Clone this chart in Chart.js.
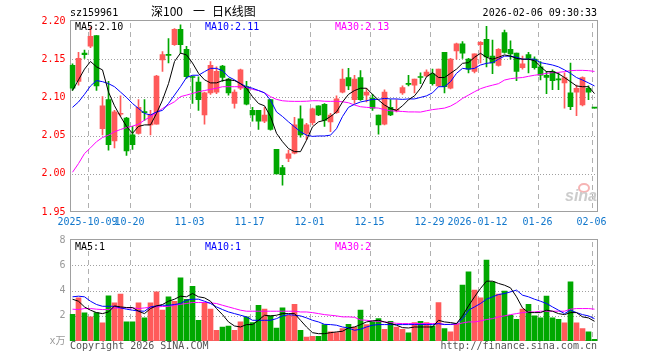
<!DOCTYPE html>
<html><head><meta charset="utf-8">
<script src="https://cdn.jsdelivr.net/npm/chart.js@4.4.1/dist/chart.umd.min.js"></script>
<style>
html,body{margin:0;padding:0;background:#fff;width:660px;height:360px;overflow:hidden;position:relative;}
canvas{position:absolute;left:0;}
.t{position:absolute;font-family:'DejaVu Sans Mono',monospace;font-size:10px;line-height:10px;white-space:pre;}
.c{position:absolute;font-family:'Noto Sans CJK SC',sans-serif;font-size:12px;line-height:12px;white-space:pre;color:#000;}
</style></head><body>
<canvas id="k" width="660" height="232" style="top:0"></canvas>
<canvas id="v" width="660" height="130" style="top:230px"></canvas>
<div class="t" style="left:70px;top:8px;color:#000">sz159961</div>
<div class="c" style="left:151px;top:5px">深100</div>
<div class="c" style="left:193px;top:5px">一</div>
<div class="c" style="left:212px;top:5px">日K线图</div>
<div class="t" style="right:63px;top:8px;color:#000">2026-02-06 09:30:33</div>
<div class="t" style="left:75px;top:21.5px;color:#000">MA5:2.10</div>
<div class="t" style="left:205px;top:21.5px;color:#0000ff">MA10:2.11</div>
<div class="t" style="left:335px;top:21.5px;color:#ff00ff">MA30:2.13</div>
<div class="t" style="left:75px;top:242px;color:#000">MA5:1</div>
<div class="t" style="left:205px;top:242px;color:#0000ff">MA10:1</div>
<div class="t" style="left:335px;top:242px;color:#ff00ff">MA30:2</div>
<div class="t" style="left:70px;top:340.5px;color:#555">Copyright 2026 SINA.COM</div>
<div class="t" style="right:63px;top:340.5px;color:#555">http://finance.sina.com.cn</div>
<div style="position:absolute;left:578px;top:183px;width:8px;height:6px;border:2px solid #f6b4b4;border-radius:50%;"></div>
<div style="position:absolute;left:565px;top:188px;font:italic bold 16px 'Liberation Sans',sans-serif;line-height:16px;color:#cccccc;">sina</div>
<script>
const dates = [
'2025-09-26','2025-09-29','2025-09-30',
'2025-10-09','2025-10-10','2025-10-13','2025-10-14','2025-10-15','2025-10-16','2025-10-17','2025-10-20','2025-10-21','2025-10-22','2025-10-23','2025-10-24','2025-10-27','2025-10-28','2025-10-29','2025-10-30','2025-10-31',
'2025-11-03','2025-11-04','2025-11-05','2025-11-06','2025-11-07','2025-11-10','2025-11-11','2025-11-12','2025-11-13','2025-11-14','2025-11-17','2025-11-18','2025-11-19','2025-11-20','2025-11-21','2025-11-24','2025-11-25','2025-11-26','2025-11-27','2025-11-28',
'2025-12-01','2025-12-02','2025-12-03','2025-12-04','2025-12-05','2025-12-08','2025-12-09','2025-12-10','2025-12-11','2025-12-12','2025-12-15','2025-12-16','2025-12-17','2025-12-18','2025-12-19','2025-12-22','2025-12-23','2025-12-24','2025-12-25','2025-12-26','2025-12-29','2025-12-30','2025-12-31',
'2026-01-05','2026-01-06','2026-01-07','2026-01-08','2026-01-09','2026-01-12','2026-01-13','2026-01-14','2026-01-15','2026-01-16','2026-01-19','2026-01-20','2026-01-21','2026-01-22','2026-01-23','2026-01-26','2026-01-27','2026-01-28','2026-01-29','2026-01-30',
'2026-02-02','2026-02-03','2026-02-04','2026-02-05','2026-02-06'];
const tickDates = ['2025-10-09','2025-10-20','2025-11-03','2025-11-17','2025-12-01','2025-12-15','2025-12-29','2026-01-12','2026-01-26','2026-02-06'];
const tickLabels = ['2025-10-09','10-20','11-03','11-17','12-01','12-15','12-29','2026-01-12','01-26','02-06'];
const priceTicks = [1.95, 2.00, 2.05, 2.10, 2.15, 2.20];
const volTicks = [0, 2, 4, 6, 8];

const open = [2.142,2.121,2.158,2.167,2.181,2.059,2.097,2.043,2.078,2.073,
2.051,2.053,2.081,2.064,2.065,2.149,2.156,2.169,2.189,2.163,
2.127,2.120,2.077,2.106,2.107,2.141,2.124,2.092,2.112,2.114,
2.083,2.083,2.069,2.097,2.032,2.008,2.020,2.027,2.072,2.053,
2.067,2.089,2.091,2.068,2.080,2.107,2.126,2.097,2.126,2.103,
2.099,2.077,2.065,2.087,2.083,2.106,2.118,2.116,2.127,2.128,
2.131,2.115,2.159,2.112,2.161,2.170,2.150,2.134,2.169,2.176,
2.154,2.142,2.185,2.163,2.158,2.139,2.156,2.150,2.140,2.129,
2.134,2.124,2.119,2.106,2.107,2.090,2.112,2.086];
const high = [2.144,2.159,2.162,2.192,2.181,2.101,2.121,2.083,2.102,2.074,
2.062,2.097,2.097,2.083,2.129,2.160,2.177,2.190,2.195,2.167,
2.128,2.127,2.107,2.147,2.140,2.142,2.125,2.110,2.137,2.121,
2.087,2.083,2.087,2.097,2.032,2.011,2.031,2.074,2.089,2.066,
2.086,2.089,2.092,2.079,2.102,2.137,2.138,2.129,2.135,2.112,
2.104,2.077,2.110,2.097,2.097,2.115,2.129,2.124,2.132,2.136,
2.137,2.137,2.159,2.151,2.171,2.173,2.151,2.157,2.173,2.193,
2.175,2.164,2.188,2.174,2.158,2.154,2.159,2.153,2.147,2.134,
2.136,2.132,2.132,2.145,2.116,2.127,2.115,2.086];
const low = [2.109,2.116,2.151,2.165,2.109,2.051,2.031,2.034,2.075,2.024,
2.032,2.052,2.070,2.051,2.065,2.134,2.145,2.168,2.158,2.125,
2.092,2.083,2.065,2.104,2.105,2.121,2.103,2.086,2.110,2.090,
2.069,2.058,2.067,2.057,2.000,1.985,2.016,2.026,2.048,2.045,
2.064,2.076,2.062,2.055,2.079,2.106,2.110,2.092,2.096,2.094,
2.083,2.052,2.064,2.076,2.081,2.104,2.115,2.106,2.118,2.127,
2.116,2.114,2.106,2.111,2.150,2.151,2.132,2.132,2.145,2.140,
2.131,2.141,2.158,2.150,2.122,2.137,2.132,2.137,2.123,2.105,
2.110,2.110,2.086,2.084,2.076,2.089,2.097,2.086];
const close = [2.112,2.151,2.156,2.180,2.115,2.089,2.038,2.081,2.079,2.030,
2.038,2.087,2.080,2.078,2.128,2.156,2.155,2.189,2.169,2.127,
2.126,2.097,2.106,2.142,2.134,2.126,2.106,2.107,2.136,2.091,
2.077,2.069,2.077,2.058,2.000,1.999,2.026,2.064,2.051,2.064,
2.085,2.077,2.070,2.077,2.098,2.124,2.115,2.124,2.097,2.107,
2.086,2.064,2.107,2.077,2.084,2.113,2.117,2.124,2.126,2.133,
2.118,2.137,2.114,2.150,2.170,2.158,2.137,2.157,2.172,2.153,
2.145,2.163,2.159,2.157,2.134,2.144,2.151,2.139,2.129,2.126,
2.122,2.123,2.126,2.088,2.112,2.126,2.107,2.086];
const ma5 = [2.109,2.123,2.137,2.147,2.140,2.136,2.107,2.089,2.075,2.062,
2.053,2.062,2.064,2.064,2.079,2.0965,2.118,2.147,2.158,2.1556,
2.145,2.1315,2.123,2.119,2.119,2.122,2.123,2.122,2.118,2.112,
2.101,2.092,2.089,2.075,2.053,2.042,2.033,2.029,2.029,2.044,
2.0615,2.068,2.070,2.075,2.081,2.094,2.104,2.109,2.112,2.112,
2.104,2.0965,2.090,2.0855,2.083,2.089,2.097,2.102,2.112,2.127,
2.1324,2.126,2.126,2.1315,2.137,2.1446,2.1455,2.1525,2.1577,2.1525,
2.150,2.1525,2.1556,2.154,2.151,2.150,2.150,2.148,2.140,2.1337,
2.1337,2.131,2.126,2.1206,2.115,2.114,2.114,2.105];
const ma10 = [2.087,2.094,2.104,2.115,2.122,2.1206,2.118,2.114,2.107,2.100,
2.092,2.0855,2.079,2.077,2.081,2.083,2.092,2.103,2.114,2.126,
2.129,2.129,2.1337,2.138,2.138,2.135,2.127,2.123,2.118,2.114,
2.112,2.109,2.106,2.0965,2.081,2.075,2.068,2.0615,2.055,2.0506,
2.049,2.0495,2.0495,2.0506,2.059,2.075,2.087,2.091,2.094,2.0956,
2.0974,2.0974,2.0987,2.098,2.098,2.0974,2.098,2.098,2.100,2.102,
2.106,2.114,2.114,2.1206,2.1315,2.138,2.137,2.138,2.1424,2.1446,
2.1455,2.150,2.154,2.154,2.1525,2.150,2.150,2.150,2.1455,2.144,
2.1424,2.140,2.136,2.1315,2.126,2.1227,2.119,2.115];
const ma30 = [2.002,2.0134,2.0265,2.034,2.042,2.0475,2.0506,2.055,2.058,2.0606,
2.0624,2.065,2.0703,2.0746,2.080,2.0855,2.090,2.0943,2.101,2.103,
2.1052,2.1074,2.109,2.1105,2.112,2.114,2.114,2.114,2.114,2.113,
2.1105,2.109,2.106,2.101,2.0974,2.0956,2.095,2.0948,2.0948,2.095,
2.0956,2.0956,2.095,2.0948,2.095,2.0943,2.093,2.090,2.0878,2.087,
2.0865,2.086,2.084,2.0825,2.082,2.0816,2.081,2.081,2.0808,2.0825,
2.084,2.085,2.086,2.0886,2.093,2.0987,2.103,2.1074,2.1114,2.114,
2.116,2.118,2.1227,2.1245,2.1254,2.126,2.1276,2.129,2.130,2.1315,
2.1324,2.1328,2.1337,2.135,2.1354,2.1354,2.135,2.134];
const vol = [2.12,3.42,2.23,1.91,2.25,1.43,3.58,3.02,3.71,1.51,
1.51,3.02,1.83,3.02,3.89,2.44,3.50,3.15,5.01,3.31,
4.34,1.64,3.05,2.52,0.85,1.11,1.19,0.85,1.51,1.91,
1.46,2.83,2.52,1.99,1.03,2.62,2.04,2.91,0.85,0.32,
0.37,0.37,1.30,0.72,0.66,0.98,1.32,1.11,2.44,1.30,
1.51,1.77,0.93,1.56,1.11,0.93,0.64,1.46,1.56,1.46,
1.19,3.05,0.98,0.72,1.38,4.42,5.48,4.03,3.42,6.41,
4.69,3.71,3.95,2.04,1.72,2.52,2.91,1.99,1.83,3.55,
1.83,1.72,1.43,4.69,1.43,0.98,0.72,0.13];
const vma5 = [3.31,3.15,2.70,2.44,2.25,2.17,2.30,2.78,2.70,2.65,
2.65,2.36,2.17,2.57,2.78,2.89,3.15,3.31,3.55,3.50,
3.76,3.50,3.42,3.15,2.57,2.09,1.51,1.19,1.11,1.30,
1.30,1.64,2.04,1.99,2.04,2.17,2.17,2.17,1.64,1.11,
0.66,0.58,0.58,0.66,0.72,0.77,1.03,1.11,1.30,1.51,
1.59,1.64,1.51,1.38,1.25,1.06,1.03,1.11,1.11,1.11,
1.11,1.64,1.51,1.46,1.38,1.99,2.78,3.50,4.16,4.74,
4.74,4.56,4.42,4.21,3.50,2.62,2.25,2.25,2.25,2.44,
2.36,2.17,2.09,2.25,2.25,1.91,1.83,1.56];
const vma10 = [3.50,3.55,3.50,3.15,2.89,2.75,2.75,2.75,2.62,2.52,
2.44,2.38,2.36,2.70,2.78,2.83,2.83,2.89,2.97,3.23,
3.31,3.31,3.15,2.97,2.70,2.49,2.30,2.17,2.04,1.91,
1.64,1.64,1.64,1.64,1.77,1.99,2.09,2.04,1.99,1.83,
1.64,1.51,1.32,1.30,1.25,1.11,1.03,0.85,0.93,1.11,
1.25,1.30,1.30,1.30,1.30,1.30,1.30,1.30,1.30,1.30,
1.30,1.38,1.30,1.32,1.38,1.77,2.44,2.70,2.97,3.31,
3.50,3.68,3.76,3.89,4.03,3.63,3.50,3.31,3.15,2.97,
2.70,2.44,2.17,2.44,2.25,2.09,1.99,1.77];
const vma30 = [2.52,2.49,2.57,2.57,2.52,2.49,2.49,2.62,2.62,2.62,
2.62,2.57,2.62,2.68,2.70,2.73,2.75,2.83,2.91,2.97,
3.05,3.05,3.05,3.02,2.97,2.83,2.70,2.57,2.44,2.36,
2.36,2.36,2.36,2.36,2.36,2.36,2.36,2.36,2.30,2.30,
2.25,2.17,2.09,2.04,1.99,1.91,1.91,1.88,1.67,1.64,
1.59,1.56,1.51,1.46,1.40,1.38,1.38,1.38,1.38,1.38,
1.38,1.38,1.32,1.30,1.32,1.43,1.51,1.51,1.59,1.70,
1.77,1.91,1.99,2.09,2.17,2.25,2.30,2.30,2.36,2.36,
2.36,2.36,2.36,2.52,2.57,2.57,2.57,2.52];

const UP = '#ff5a5a', DOWN = '#00a800';
const colors = close.map((c, i) => c > open[i] ? UP : DOWN);
const tickIdx = tickDates.map(d => dates.indexOf(d));
const MONO = "'DejaVu Sans Mono', monospace";

// frame + grid drawn through the chart's own scales (dashes as pixel runs)
function framePlugin(yTicks) {
  return {
    id: 'frame',
    beforeDatasetsDraw(chart) {
      const a = chart.chartArea, ctx = chart.ctx;
      const xs = chart.scales.x, ys = chart.scales.y;
      const L = Math.round(a.left), R = Math.round(a.right);
      const T = Math.round(a.top), B = Math.round(a.bottom);
      ctx.save();
      ctx.fillStyle = '#a0a0a0';
      yTicks.slice(1, -1).forEach(v => {
        const y = Math.round(ys.getPixelForValue(v));
        for (let x = L + 2; x < R - 1; x += 3) ctx.fillRect(x, y, 1, 1);
      });
      ctx.fillStyle = '#b0b0b0';
      const half = (xs.getPixelForValue(1) - xs.getPixelForValue(0)) / 2;
      tickIdx.forEach(i => {
        const x = Math.round(xs.getPixelForValue(i) - half);
        for (let y = T + 2; y < B - 1; y += 9) ctx.fillRect(x, y, 1, Math.min(5, B - 1 - y));
      });
      ctx.fillStyle = '#a0a0a0';
      ctx.fillRect(L, T - 1, R - L, 1);
      ctx.fillRect(L, B - 1, R - L, 1);
      ctx.fillRect(L, T - 1, 1, B - T + 1);
      ctx.fillRect(R - 1, T - 1, 1, B - T + 1);
      ctx.restore();
    }
  };
}

function xScale(show, h) {
  return {
    type: 'category', offset: true,
    grid: { display: false, drawTicks: false },
    border: { display: false },
    ticks: { display: show, autoSkip: false, maxRotation: 0, minRotation: 0, padding: 4, labelOffset: -3,
      color: '#1177cc', font: { family: MONO, size: 10 },
      callback: (v, i) => { const k = tickIdx.indexOf(i); return k >= 0 ? tickLabels[k] : ''; } },
    afterFit: s => { s.height = h; }
  };
}
function yScale(tks, color, fmt) {
  return {
    min: tks[0], max: tks[tks.length - 1],
    afterBuildTicks: s => { s.ticks = tks.map(v => ({ value: v })); },
    grid: { display: false, drawTicks: false },
    border: { display: false },
    ticks: { padding: 4, color: color, font: { family: MONO + ", 'Noto Sans CJK SC'", size: 10 }, callback: fmt },
    afterFit: s => { s.width = 69.5; }
  };
}
function line(data, color) {
  return { type: 'line', data, borderColor: color, borderWidth: 1, pointRadius: 0, tension: 0, fill: false, order: 0 };
}
const common = {
  responsive: false, animation: false, devicePixelRatio: 1, events: [],
  plugins: { legend: { display: false }, tooltip: { enabled: false } }
};

new Chart(document.getElementById('k'), {
  type: 'bar',
  data: {
    labels: dates,
    datasets: [
      line(ma5, '#000000'), line(ma10, '#0000ff'), line(ma30, '#ff00ff'),
      { type: 'bar', data: low.map((l, i) => [l, high[i]]), backgroundColor: colors, barThickness: 1, grouped: false, order: 2 },
      { type: 'bar', data: open.map((o, i) => [o, close[i]]), backgroundColor: colors, barThickness: 5, grouped: false, minBarLength: 1, order: 1 }
    ]
  },
  options: Object.assign({}, common, {
    layout: { padding: { top: 21, right: 62.5, bottom: 0, left: 0 } },
    scales: {
      x: xScale(true, 20),
      y: yScale(priceTicks, '#ff0000', v => v.toFixed(2))
    }
  }),
  plugins: [framePlugin(priceTicks)]
});

new Chart(document.getElementById('v'), {
  type: 'bar',
  data: {
    labels: dates,
    datasets: [
      line(vma5, '#000000'), line(vma10, '#0000ff'), line(vma30, '#ff00ff'),
      { type: 'bar', data: vol, backgroundColor: colors, barThickness: 5, grouped: false, order: 1 }
    ]
  },
  options: Object.assign({}, common, {
    layout: { padding: { top: 10, right: 62.5, bottom: 0, left: 0 } },
    scales: {
      x: xScale(false, 19),
      y: yScale(volTicks, '#999999', v => v === 0 ? 'x万' : String(v))
    }
  }),
  plugins: [framePlugin(volTicks)]
});
</script>
</body></html>
